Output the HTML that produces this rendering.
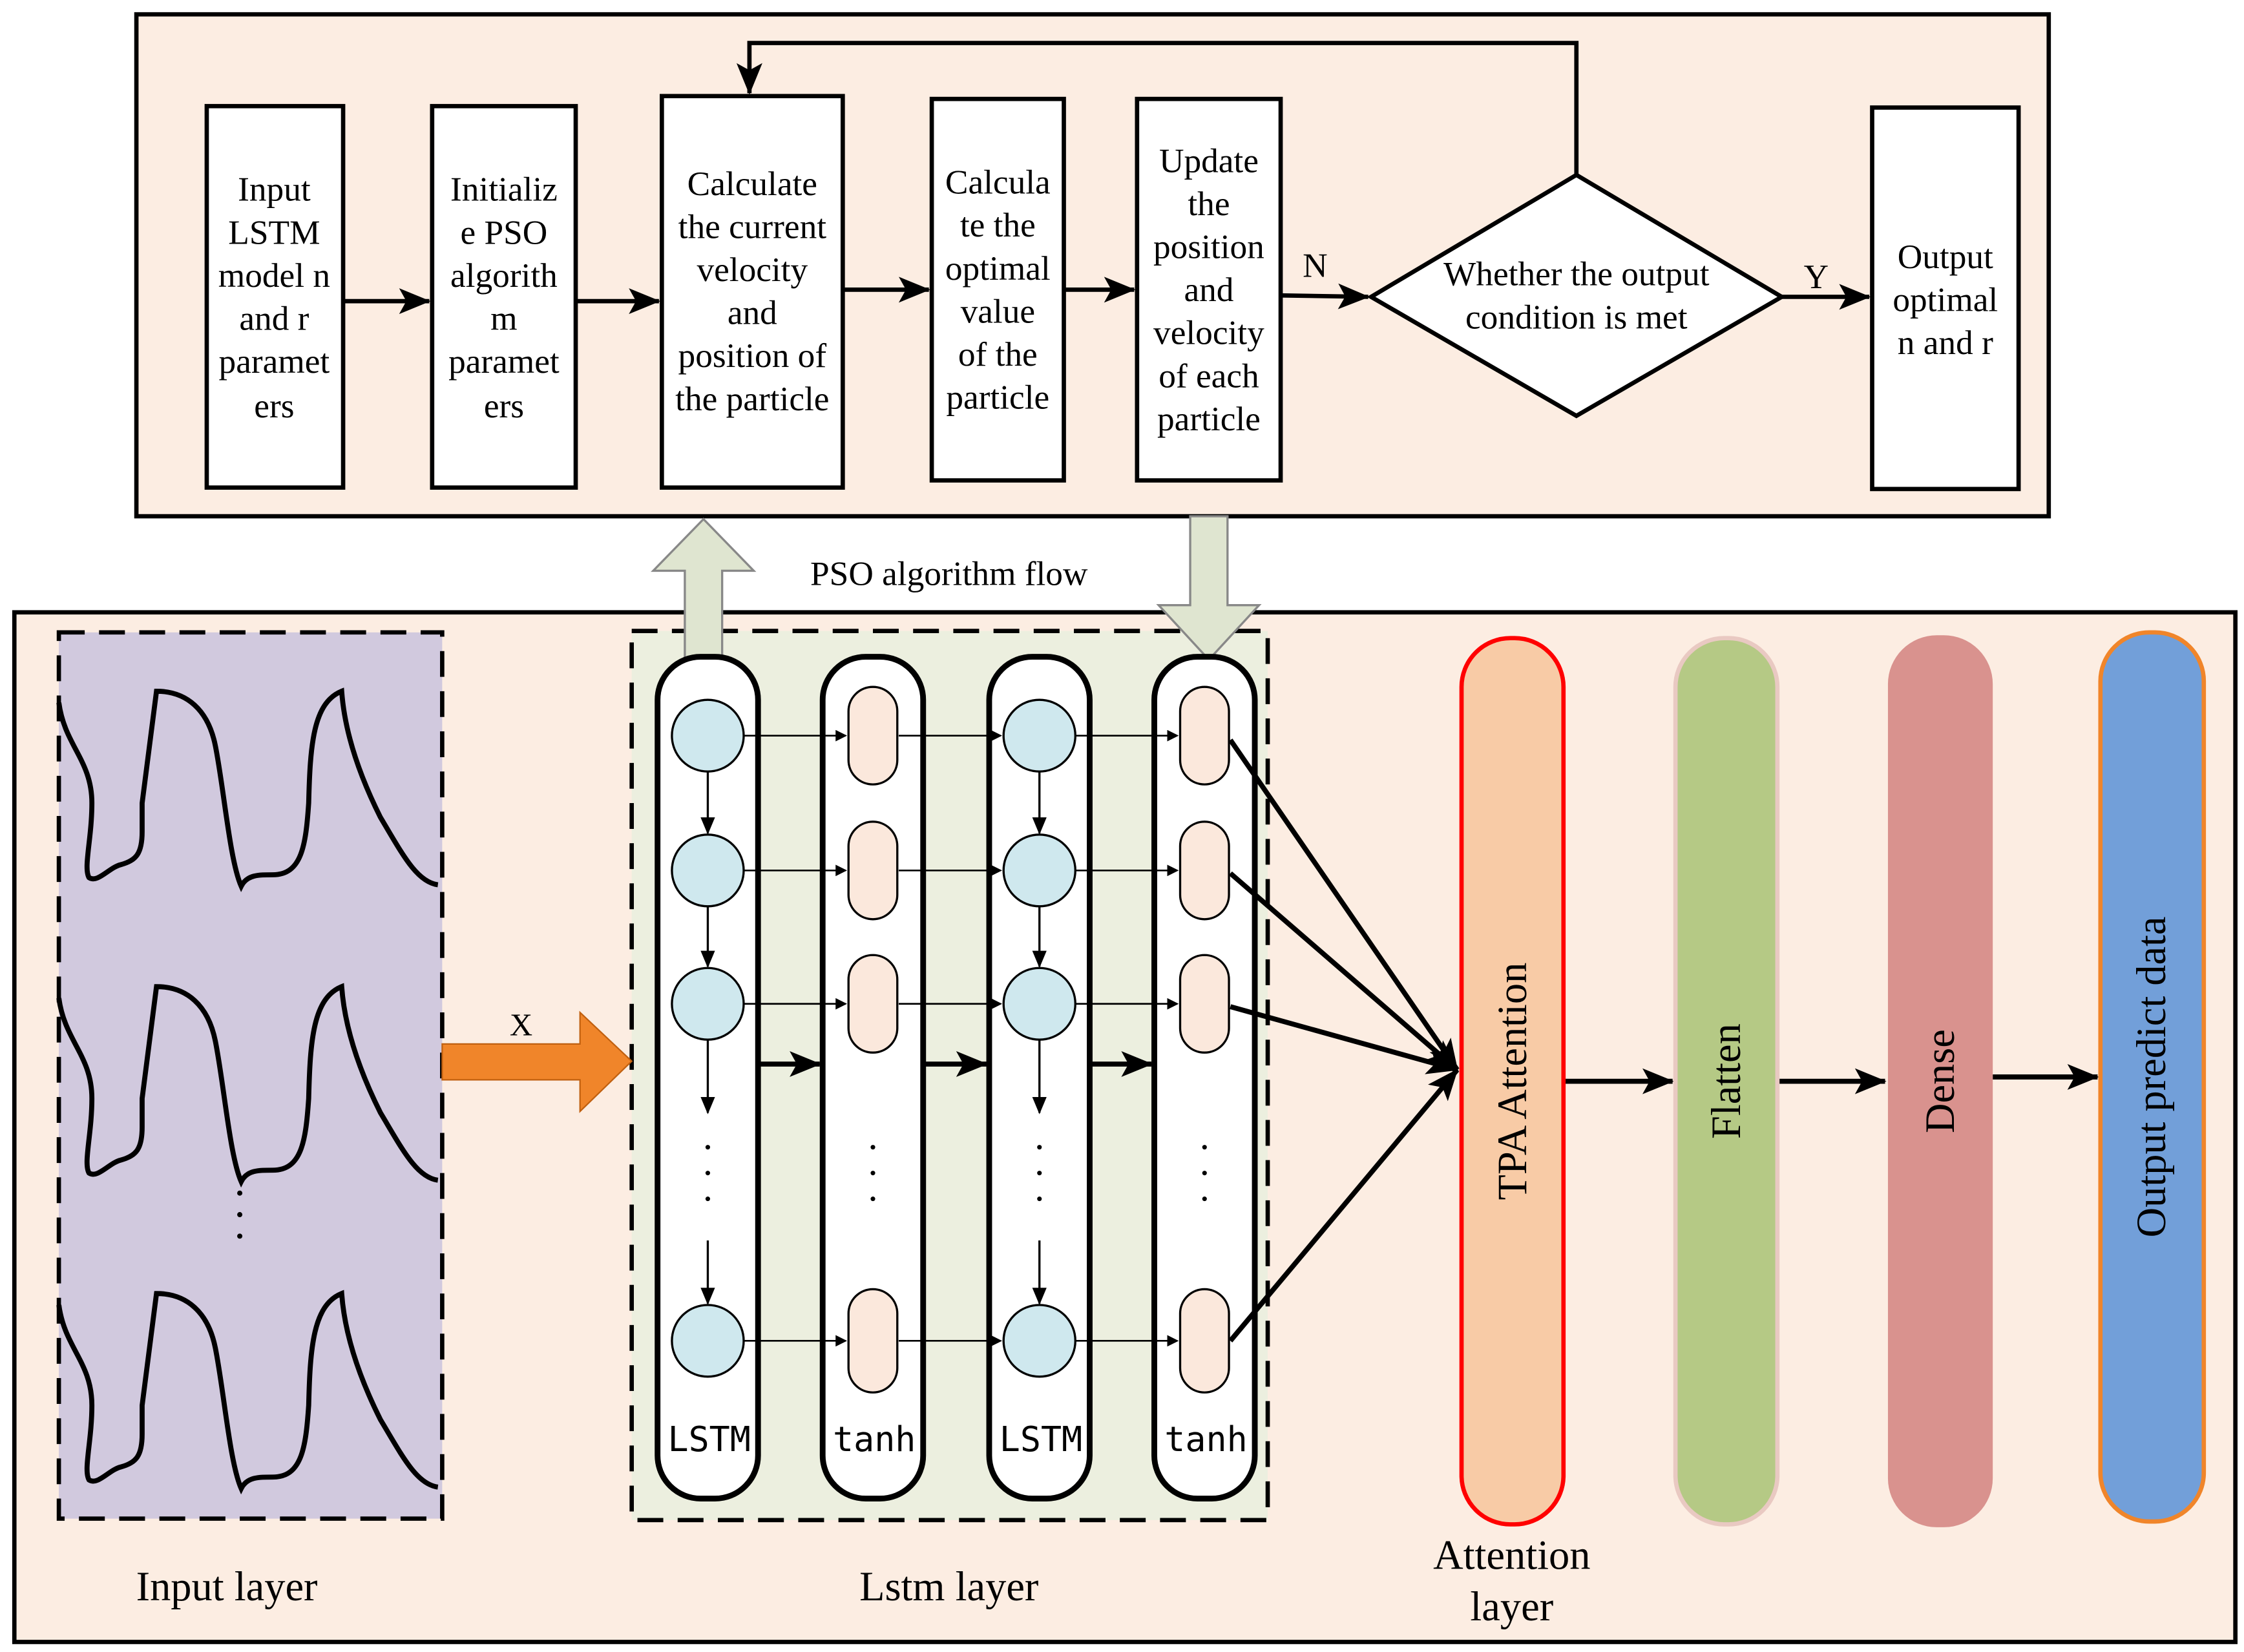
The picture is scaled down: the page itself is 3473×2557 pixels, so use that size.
<!DOCTYPE html>
<html><head><meta charset="utf-8"><style>html,body{margin:0;padding:0;background:#fff}svg{display:block}</style></head>
<body>
<svg width="3473" height="2557" viewBox="0 0 1563 1152" preserveAspectRatio="none" xmlns="http://www.w3.org/2000/svg" font-family="Liberation Serif, serif">
<defs>
<marker id="ah" markerWidth="8" markerHeight="8" refX="7" refY="4" orient="auto" markerUnits="userSpaceOnUse"><path d="M0,0 L8,4 L0,8 z" fill="#000"/></marker>
<marker id="ab" markerWidth="22" markerHeight="18" refX="21" refY="9" orient="auto" markerUnits="userSpaceOnUse"><path d="M0,0 L22,9 L0,18 L5,9 z" fill="#000"/></marker>
<marker id="as" markerWidth="12" markerHeight="10" refX="11" refY="5" orient="auto" markerUnits="userSpaceOnUse"><path d="M0,0 L12,5 L0,10 z" fill="#000"/></marker>
</defs>
<rect width="1563" height="1152" fill="#fff"/>
<rect x="95" y="10" width="1332" height="350" fill="#fcede2" stroke="#000" stroke-width="3"/>
<g fill="#fff" stroke="#000" stroke-width="3">
<rect x="144" y="74" width="95" height="266"/>
<rect x="301" y="74" width="100" height="266"/>
<rect x="461" y="67" width="126" height="273"/>
<rect x="649" y="69" width="92" height="266"/>
<rect x="792" y="69" width="100" height="266"/>
<polygon points="955,207 1098,122 1241,207 1098,290"/>
<rect x="1304" y="75" width="102" height="266"/>
</g>
<g font-size="24" text-anchor="middle" fill="#000">
<text x="191" y="140">Input</text><text x="191" y="170">LSTM</text><text x="191" y="200">model n</text><text x="191" y="230">and r</text><text x="191" y="260">paramet</text><text x="191" y="291">ers</text>
<text x="351" y="140">Initializ</text><text x="351" y="170">e PSO</text><text x="351" y="200">algorith</text><text x="351" y="230">m</text><text x="351" y="260">paramet</text><text x="351" y="291">ers</text>
<text x="524" y="136">Calculate</text><text x="524" y="166">the current</text><text x="524" y="196">velocity</text><text x="524" y="226">and</text><text x="524" y="256">position of</text><text x="524" y="286">the particle</text>
<text x="695" y="135">Calcula</text><text x="695" y="165">te the</text><text x="695" y="195">optimal</text><text x="695" y="225">value</text><text x="695" y="255">of the</text><text x="695" y="285">particle</text>
<text x="842" y="120">Update</text><text x="842" y="150">the</text><text x="842" y="180">position</text><text x="842" y="210">and</text><text x="842" y="240">velocity</text><text x="842" y="270">of each</text><text x="842" y="300">particle</text>
<text x="1098" y="199">Whether the output</text><text x="1098" y="229">condition is met</text>
<text x="1355" y="187">Output</text><text x="1355" y="217">optimal</text><text x="1355" y="247">n and r</text>
<text x="916" y="193">N</text><text x="1265" y="201">Y</text>
<text x="661" y="408">PSO algorithm flow</text>
</g>
<g stroke="#000" stroke-width="3" fill="none">
<line x1="239" y1="210" x2="299" y2="210" marker-end="url(#ab)"/>
<line x1="401" y1="210" x2="459" y2="210" marker-end="url(#ab)"/>
<line x1="587" y1="202" x2="647" y2="202" marker-end="url(#ab)"/>
<line x1="741" y1="202" x2="790" y2="202" marker-end="url(#ab)"/>
<line x1="892" y1="206" x2="953" y2="207" marker-end="url(#ab)"/>
<line x1="1241" y1="207" x2="1302" y2="207" marker-end="url(#ab)"/>
<polyline points="1098,122 1098,30 522,30 522,65" marker-end="url(#ab)"/>
</g>
<rect x="10" y="427" width="1547" height="718" fill="#fcede2" stroke="#000" stroke-width="3"/>
<rect x="41" y="441" width="267" height="618" fill="#d1c9de" stroke="#000" stroke-width="3" stroke-dasharray="18,10"/>
<rect x="440" y="440" width="443" height="620" fill="#ecefdf" stroke="#000" stroke-width="3" stroke-dasharray="18,10"/>
<g fill="none" stroke="#000" stroke-width="3.5">
<path d="M41,490 C45,520 64,530 64,560 C64,585 58,605 62,612 C68,616 76,605 84,603 C95,600 99,595 99,580 L99,560 L109,482 C130,482 145,495 150,520 C156,550 160,600 168,618 C172,610 180,610 190,610 C210,610 213,590 215,560 C216,520 218,490 238,482 C240,510 250,540 265,570 C280,595 290,615 305,617"/>
<path transform="translate(0,206)" d="M41,490 C45,520 64,530 64,560 C64,585 58,605 62,612 C68,616 76,605 84,603 C95,600 99,595 99,580 L99,560 L109,482 C130,482 145,495 150,520 C156,550 160,600 168,618 C172,610 180,610 190,610 C210,610 213,590 215,560 C216,520 218,490 238,482 C240,510 250,540 265,570 C280,595 290,615 305,617"/>
<path transform="translate(0,420)" d="M41,490 C45,520 64,530 64,560 C64,585 58,605 62,612 C68,616 76,605 84,603 C95,600 99,595 99,580 L99,560 L109,482 C130,482 145,495 150,520 C156,550 160,600 168,618 C172,610 180,610 190,610 C210,610 213,590 215,560 C216,520 218,490 238,482 C240,510 250,540 265,570 C280,595 290,615 305,617"/>
</g>
<g fill="#000"><circle cx="167" cy="832" r="1.8"/><circle cx="167" cy="847" r="1.8"/><circle cx="167" cy="862" r="1.8"/></g>
<polygon points="477,460 477,398 455,398 490,362 525,398 503,398 503,460" fill="#dfe5d0" stroke="#888" stroke-width="1.5"/>
<polygon points="829,360 855,360 855,422 877,422 842,460 807,422 829,422" fill="#dfe5d0" stroke="#888" stroke-width="1.5"/>
<polygon points="308,728 404,728 404,706 440,740 404,775 404,753 308,753" fill="#f0852a" stroke="#c06010" stroke-width="1"/>
<text x="363" y="722" font-size="22" text-anchor="middle">X</text>
<g fill="#fff" stroke="#000" stroke-width="4">
<rect x="458" y="458" width="70" height="587" rx="30"/>
<rect x="573" y="458" width="70" height="587" rx="30"/>
<rect x="689" y="458" width="70" height="587" rx="30"/>
<rect x="804" y="458" width="70" height="587" rx="30"/>
</g>
<g stroke="#000" stroke-width="1.2" fill="none">
<line x1="518" y1="513" x2="589" y2="513" marker-end="url(#ah)"/>
<line x1="626" y1="513" x2="697" y2="513" marker-end="url(#ah)"/>
<line x1="749" y1="513" x2="820" y2="513" marker-end="url(#ah)"/>
<line x1="518" y1="607" x2="589" y2="607" marker-end="url(#ah)"/>
<line x1="626" y1="607" x2="697" y2="607" marker-end="url(#ah)"/>
<line x1="749" y1="607" x2="820" y2="607" marker-end="url(#ah)"/>
<line x1="518" y1="700" x2="589" y2="700" marker-end="url(#ah)"/>
<line x1="626" y1="700" x2="697" y2="700" marker-end="url(#ah)"/>
<line x1="749" y1="700" x2="820" y2="700" marker-end="url(#ah)"/>
<line x1="518" y1="935" x2="589" y2="935" marker-end="url(#ah)"/>
<line x1="626" y1="935" x2="697" y2="935" marker-end="url(#ah)"/>
<line x1="749" y1="935" x2="820" y2="935" marker-end="url(#ah)"/>
</g>
<g stroke="#000" stroke-width="1.5" fill="none">
<line x1="493" y1="538" x2="493" y2="581" marker-end="url(#as)"/>
<line x1="493" y1="632" x2="493" y2="674" marker-end="url(#as)"/>
<line x1="493" y1="725" x2="493" y2="776" marker-end="url(#as)"/>
<line x1="493" y1="865" x2="493" y2="909" marker-end="url(#as)"/>
<line x1="724" y1="538" x2="724" y2="581" marker-end="url(#as)"/>
<line x1="724" y1="632" x2="724" y2="674" marker-end="url(#as)"/>
<line x1="724" y1="725" x2="724" y2="776" marker-end="url(#as)"/>
<line x1="724" y1="865" x2="724" y2="909" marker-end="url(#as)"/>
</g>
<g stroke="#000" stroke-width="3.5" fill="none">
<line x1="528" y1="742" x2="571" y2="742" marker-end="url(#ab)"/>
<line x1="643" y1="742" x2="687" y2="742" marker-end="url(#ab)"/>
<line x1="759" y1="742" x2="802" y2="742" marker-end="url(#ab)"/>
</g>
<g fill="#cfe8ee" stroke="#000" stroke-width="1.5">
<circle cx="493" cy="513" r="25"/><circle cx="493" cy="607" r="25"/><circle cx="493" cy="700" r="25"/><circle cx="493" cy="935" r="25"/>
<circle cx="724" cy="513" r="25"/><circle cx="724" cy="607" r="25"/><circle cx="724" cy="700" r="25"/><circle cx="724" cy="935" r="25"/>
</g>
<g fill="#fbe8dc" stroke="#000" stroke-width="1.5">
<rect x="591" y="479" width="34" height="68" rx="17"/><rect x="591" y="573" width="34" height="68" rx="17"/><rect x="591" y="666" width="34" height="68" rx="17"/><rect x="591" y="899" width="34" height="72" rx="17"/>
<rect x="822" y="479" width="34" height="68" rx="17"/><rect x="822" y="573" width="34" height="68" rx="17"/><rect x="822" y="666" width="34" height="68" rx="17"/><rect x="822" y="899" width="34" height="72" rx="17"/>
</g>
<g fill="#000">
<circle cx="493" cy="800" r="1.6"/><circle cx="493" cy="818" r="1.6"/><circle cx="493" cy="836" r="1.6"/>
<circle cx="608" cy="800" r="1.6"/><circle cx="608" cy="818" r="1.6"/><circle cx="608" cy="836" r="1.6"/>
<circle cx="724" cy="800" r="1.6"/><circle cx="724" cy="818" r="1.6"/><circle cx="724" cy="836" r="1.6"/>
<circle cx="839" cy="800" r="1.6"/><circle cx="839" cy="818" r="1.6"/><circle cx="839" cy="836" r="1.6"/>
</g>
<g font-family="DejaVu Sans Mono, Liberation Mono, monospace" font-size="24" text-anchor="middle" fill="#000">
<text x="494" y="1012">LSTM</text><text x="609" y="1012">tanh</text><text x="725" y="1012">LSTM</text><text x="840" y="1012">tanh</text>
</g>
<g stroke="#000" stroke-width="3.5" fill="none">
<line x1="857" y1="516" x2="1015" y2="746" marker-end="url(#ab)"/>
<line x1="857" y1="609" x2="1015" y2="746" marker-end="url(#ab)"/>
<line x1="857" y1="702" x2="1015" y2="746" marker-end="url(#ab)"/>
<line x1="857" y1="935" x2="1015" y2="746" marker-end="url(#ab)"/>
<line x1="1089" y1="754" x2="1165" y2="754" marker-end="url(#ab)"/>
<line x1="1238" y1="754" x2="1313" y2="754" marker-end="url(#ab)"/>
<line x1="1388" y1="751" x2="1461" y2="751" marker-end="url(#ab)"/>
</g>
<rect x="1018" y="445" width="71" height="618" rx="34" fill="#f8cba6" stroke="#f00" stroke-width="3"/>
<rect x="1167" y="445" width="71" height="618" rx="34" fill="#b5c985" stroke="#e9c9c2" stroke-width="3"/>
<rect x="1315" y="443" width="73" height="622" rx="34" fill="#d9928e"/>
<rect x="1463" y="441" width="72" height="620" rx="34" fill="#729fd9" stroke="#f0852a" stroke-width="3"/>
<g font-size="29" text-anchor="middle" fill="#000">
<text transform="translate(1063,754) rotate(-90)">TPA Attention</text>
<text transform="translate(1212,754) rotate(-90)">Flatten</text>
<text transform="translate(1361,754) rotate(-90)">Dense</text>
<text transform="translate(1508,751) rotate(-90)">Output predict data</text>
<text x="158" y="1116">Input layer</text>
<text x="661" y="1116">Lstm layer</text>
<text x="1053" y="1094">Attention</text>
<text x="1053" y="1130">layer</text>
</g>
</svg>
</body></html>
